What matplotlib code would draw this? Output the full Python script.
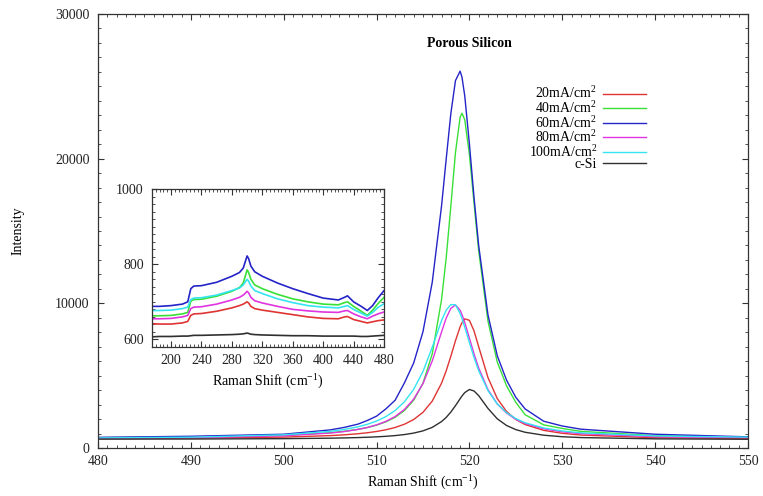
import matplotlib
matplotlib.use("Agg")
import matplotlib.pyplot as plt
from matplotlib.ticker import MultipleLocator

plt.rcParams['font.family'] = ['Liberation Serif', 'DejaVu Serif']
plt.rcParams['mathtext.fontset'] = 'custom'
plt.rcParams['mathtext.rm'] = 'Liberation Serif'
plt.rcParams['mathtext.it'] = 'Liberation Serif:italic'
plt.rcParams['mathtext.bf'] = 'Liberation Serif:bold'

# main spectra
shift = [480, 490, 500, 505, 506.5, 508, 509, 510, 511, 512, 513, 514, 515, 516, 517, 517.5, 518, 518.5,
         519, 519.2, 519.5, 520, 520.5, 521, 522, 523, 524, 525, 526, 528, 530, 532, 540, 550]
i20 = [653, 679, 752, 855, 909, 985, 1053, 1141, 1258, 1417, 1642, 1968, 2465, 3241, 4480, 5332, 6338, 7417,
       8375, 8658, 8927, 8826, 8091, 7001, 4870, 3414, 2522, 1973, 1621, 1219, 1014, 894, 710, 650]
i40 = [713, 755, 878, 1055, 1151, 1289, 1413, 1580, 1805, 2122, 2587, 3304, 4474, 6511, 10254, 13132, 16707, 20422,
       22865, 23140, 22691, 20297, 16923, 13629, 8771, 5943, 4297, 3150, 2300, 1600, 1350, 1150, 850, 740]
i60 = [735, 810, 950, 1250, 1420, 1650, 1900, 2200, 2700, 3300, 4496, 5878, 8035, 11457, 16726, 19960, 23108, 25396,
       26050, 25636, 24340, 21020, 17312, 13990, 9206, 6382, 4687, 3500, 2700, 1850, 1520, 1300, 950, 770]
i80 = [672, 715, 843, 1031, 1134, 1282, 1417, 1595, 1837, 2175, 2662, 3377, 4450, 6017, 8020, 8976, 9653, 9890,
       9521, 9228, 8676, 7595, 6509, 5529, 4030, 3049, 2410, 1984, 1689, 1325, 1119, 993, 783, 707]
i100 = [695, 748, 910, 1148, 1278, 1465, 1636, 1861, 2168, 2592, 3190, 4056, 5290, 6957, 8805, 9523, 9914, 9894,
        9297, 8945, 8347, 7276, 6244, 5340, 3962, 3045, 2442, 2031, 1744, 1383, 1177, 1048, 831, 752]
isi = [611, 620, 645, 678, 696, 720, 742, 770, 807, 857, 928, 1030, 1183, 1425, 1825, 2114, 2481, 2925,
       3407, 3592, 3830, 4043, 3940, 3620, 2736, 2017, 1556, 1270, 1087, 883, 779, 720, 632, 603]

# inset: low-wavenumber region
shift_low = [175, 185, 200, 215, 222, 226, 230, 240, 260, 280, 290, 295, 300, 302, 305,
             310, 320, 340, 360, 380, 400, 420, 428, 432, 440, 450, 458, 465, 472, 480]
low20 = [642, 641, 641, 644, 648, 664, 668, 669, 675, 684, 690, 694, 700, 697, 688,
         682, 678, 672, 666, 660, 656, 655, 660, 661, 653, 648, 644, 647, 650, 652]
low40 = [663, 663, 664, 668, 672, 702, 706, 707, 715, 728, 738, 750, 785, 778, 760,
         745, 735, 720, 708, 700, 694, 692, 698, 700, 688, 675, 664, 678, 695, 712]
low60 = [688, 688, 690, 694, 700, 735, 742, 743, 752, 768, 778, 790, 822, 815, 795,
         780, 768, 750, 735, 722, 710, 705, 712, 716, 700, 688, 677, 690, 710, 730]
low80 = [655, 655, 656, 660, 664, 682, 686, 687, 694, 705, 712, 718, 728, 724, 712,
         703, 697, 688, 680, 676, 673, 672, 676, 677, 668, 660, 655, 662, 668, 673]
low100 = [677, 677, 678, 682, 686, 706, 710, 711, 718, 730, 737, 745, 760, 755, 742,
          730, 722, 708, 698, 690, 686, 684, 688, 690, 680, 670, 662, 672, 685, 695]
lowsi = [607, 608, 608, 609, 609, 610, 611, 611, 612, 613, 614, 615, 617, 616, 614,
         613, 612, 611, 610, 610, 609, 609, 609, 609, 609, 608, 608, 609, 610, 611]

labels = ['20mA/cm$^2$', '40mA/cm$^2$', '60mA/cm$^2$', '80mA/cm$^2$', '100mA/cm$^2$', 'c-Si']
colors = ['#e03434', '#38e038', '#2424c8', '#e034e0', '#34e4f0', '#303030']
main_series = [i20, i40, i60, i80, i100, isi]
low_series = [low20, low40, low60, low80, low100, lowsi]


def style_axes(ax, fs):
    for s in ax.spines.values():
        s.set_color('#333333')
        s.set_linewidth(0.9)
    ax.tick_params(which='both', direction='in', top=True, right=True,
                   colors='#333333', labelcolor='#222222', labelsize=fs)
    ax.tick_params(which='major', length=4, width=0.8)
    ax.tick_params(which='minor', length=2.2, width=0.6)


fig = plt.figure(figsize=(7.63, 4.96), dpi=100)
ax = fig.add_axes([0.1284, 0.0968, 0.8519, 0.875])

for y, c, lab in zip(main_series, colors, labels):
    ax.plot(shift, y, color=c, lw=1.0, label=lab)

ax.set_xlim(480, 550)
ax.set_ylim(0, 30000)
ax.xaxis.set_major_locator(MultipleLocator(10))
ax.xaxis.set_minor_locator(MultipleLocator(1))
ax.yaxis.set_major_locator(MultipleLocator(10000))
ax.yaxis.set_minor_locator(MultipleLocator(1000))
style_axes(ax, 10)
ax.tick_params(axis='x', pad=5)
ax.tick_params(axis='y', pad=6)
ax.set_xlabel('Raman Shift (cm$^{-1}$)', fontsize=10, labelpad=4)
ax.set_ylabel('Intensity', fontsize=10, labelpad=22)
ax.text(0.572, 0.933, 'Porous Silicon', transform=ax.transAxes, ha='center', va='center',
        fontsize=10, fontweight='bold')

ax.legend(loc='upper right', bbox_to_anchor=(0.843, 0.835), frameon=False, markerfirst=False,
          fontsize=10, handlelength=3.1, handletextpad=0.4, labelspacing=-0.1,
          borderpad=0.0, borderaxespad=0.0)

ins = fig.add_axes([0.1992, 0.3004, 0.3041, 0.3186])
for y, c in zip(low_series, colors):
    ins.plot(shift_low, y, color=c, lw=1.2)
ins.set_xlim(175, 480)
ins.set_ylim(580, 1000)
ins.xaxis.set_major_locator(MultipleLocator(40))
ins.xaxis.set_minor_locator(MultipleLocator(5))
ins.yaxis.set_major_locator(MultipleLocator(200))
ins.yaxis.set_minor_locator(MultipleLocator(20))
style_axes(ins, 10)
ins.tick_params(axis='x', pad=5)
ins.tick_params(axis='y', pad=6)
ins.set_xlabel('Raman Shift (cm$^{-1}$)', fontsize=10, labelpad=4)

fig.savefig('out.png', dpi=100)
